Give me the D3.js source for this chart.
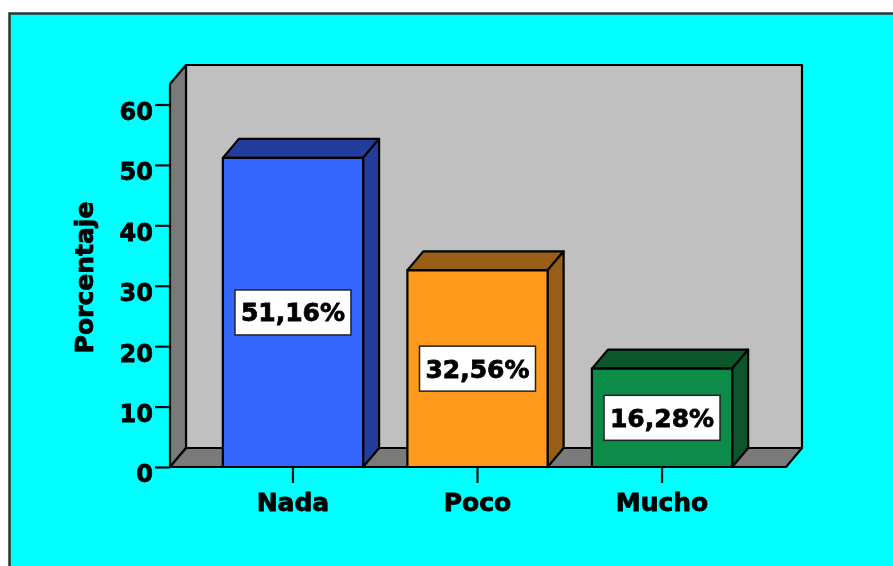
<!DOCTYPE html>
<html><head><meta charset="utf-8">
<script src="https://cdn.jsdelivr.net/npm/d3@7"></script>
<style>
html,body{margin:0;padding:0;background:#fff;overflow:hidden}
svg{display:block}
text{font-family:"DejaVu Sans",Verdana,sans-serif;font-weight:bold;fill:#000;stroke:#000;stroke-width:0.8px}
</style></head><body><svg id="c" width="893" height="566"></svg>
<script>
const categories = ["Nada","Poco","Mucho"];
const values = [51.16,32.56,16.28];
const valueLabels = ["51,16%","32,56%","16,28%"];
const yTicks = [0,10,20,30,40,50,60];
const faceColors = ["#3366FF","#FF9A1F","#0F8C49"];
const sideColors = ["#203C9C","#995F14","#0A5529"];
const axisTitle = "Porcentaje";

const W=893,H=566, dx=16, dy=-19, left=170, right=786, base=467;
const FS=25;
const svg=d3.select("#c");
const ink="#111";
const defs=svg.append("defs");
defs.append("filter").attr("id","soft").attr("filterUnits","userSpaceOnUse")
  .attr("x",0).attr("y",0).attr("width",W).attr("height",H)
  .append("feGaussianBlur").attr("stdDeviation",0.7);
const root=svg.append("g").attr("filter","url(#soft)");

root.append("rect").attr("x",9.5).attr("y",13.5).attr("width",W+20).attr("height",H+20)
  .attr("fill","#00FFFF").attr("stroke","#333").attr("stroke-width",2.5);

const y=d3.scaleLinear().domain([0,60]).range([base,base-362.5]);
const plotTop=65-dy;
const x=d3.scaleBand().domain(categories).range([200.7,754.3]).paddingInner(0.24).paddingOuter(0.12);

const poly=(g,pts,fill)=>g.append("path").attr("d",d3.line()(pts)+"Z")
  .attr("fill",fill).attr("stroke","#000").attr("stroke-width",2.2).attr("stroke-linejoin","round");

// walls and floor
const frame=root.append("g");
poly(frame,[[left+dx,plotTop+dy],[right+dx,plotTop+dy],[right+dx,base+dy],[left+dx,base+dy]],"#C0C0C0");
poly(frame,[[left,plotTop],[left+dx,plotTop+dy],[left+dx,base+dy],[left,base]],"#7A7A7A");
poly(frame,[[left,base],[left+dx,base+dy],[right+dx,base+dy],[right,base]],"#7A7A7A");

// axes
const yAxis=root.append("g").attr("transform",`translate(${left},0)`)
  .call(d3.axisLeft(y).tickValues(yTicks).tickSize(15).tickPadding(2));
yAxis.select(".domain").remove();
yAxis.selectAll("line").attr("stroke",ink).attr("stroke-width",2.2);
yAxis.selectAll("text").attr("font-size",FS-1).attr("font-family",null).attr("dy","0.62em");

const xAxis=root.append("g").attr("transform",`translate(0,${base})`)
  .call(d3.axisBottom(x).tickSize(16).tickPadding(10));
xAxis.select(".domain").remove();
xAxis.selectAll("line").attr("stroke",ink).attr("stroke-width",2.2);
xAxis.selectAll("text").attr("font-size",FS).attr("font-family",null);

root.append("text").attr("transform","translate(93,277.5) rotate(-90)")
  .attr("text-anchor","middle").attr("font-size",FS).text(axisTitle);

// bars
categories.forEach((c,i)=>{
  const g=root.append("g");
  const x0=x(c), x1=x0+x.bandwidth(), t=y(values[i]);
  poly(g,[[x0,t],[x0+dx,t+dy],[x1+dx,t+dy],[x1,t]],sideColors[i]);
  poly(g,[[x1,t],[x1+dx,t+dy],[x1+dx,base+dy],[x1,base]],sideColors[i]);
  poly(g,[[x0,t],[x1,t],[x1,base],[x0,base]],faceColors[i]);
  const cx=(x0+x1)/2, cy=y(values[i]/2);
  g.append("rect").attr("x",cx-58).attr("y",cy-22.5).attr("width",116).attr("height",45)
    .attr("fill","#fff").attr("stroke","#222").attr("stroke-width",1.5);
  g.append("text").attr("x",cx).attr("y",cy).attr("dy","0.36em").attr("text-anchor","middle")
    .attr("font-size",FS).text(valueLabels[i]);
});
</script></body></html>
